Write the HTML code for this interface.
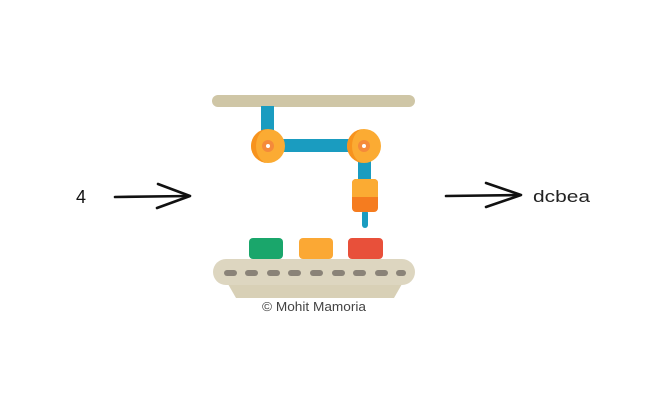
<!DOCTYPE html>
<html><head><style>
html,body{margin:0;padding:0;background:#fff;}
body{width:653px;height:404px;overflow:hidden;position:relative;}
</style></head><body>
<svg width="653" height="404" viewBox="0 0 653 404" xmlns="http://www.w3.org/2000/svg" style="position:absolute;left:0;top:0">
  <text x="76" y="203" font-family="Liberation Sans, sans-serif" font-size="18" fill="#111">4</text>
  <path d="M115 197 L189 196" stroke="#111" stroke-width="2.6" stroke-linecap="round" fill="none"/>
  <path d="M158 184 L190 196 L157 208" stroke="#111" stroke-width="2.6" stroke-linecap="round" stroke-linejoin="round" fill="none"/>
  <path d="M446 196 L520 195" stroke="#111" stroke-width="2.6" stroke-linecap="round" fill="none"/>
  <path d="M486 183 L521 195 L486 207" stroke="#111" stroke-width="2.6" stroke-linecap="round" stroke-linejoin="round" fill="none"/>
  <text x="533" y="202" font-family="Liberation Sans, sans-serif" font-size="17" textLength="57" lengthAdjust="spacingAndGlyphs" fill="#222">dcbea</text>

  <rect x="212" y="95" width="203" height="12" rx="6" fill="#cfc6a6"/>
  <rect x="261" y="106" width="13" height="40" fill="#1a9cc0"/>
  <rect x="268" y="139" width="96" height="13" fill="#1a9cc0"/>
  <rect x="358" y="146" width="13" height="36" fill="#1a9cc0"/>
  <rect x="362" y="210" width="6" height="18" rx="3" fill="#1a9cc0"/>
  <circle cx="268" cy="146" r="17" fill="#fbab33"/>
  <path d="M268 129 A17 17 0 0 0 268 163 A12 17 0 0 1 268 129Z" fill="#f7931e"/>
  <circle cx="268" cy="146" r="6" fill="#f58a3a"/>
  <circle cx="268" cy="146" r="2" fill="#fff"/>
  <circle cx="364" cy="146" r="17" fill="#fbab33"/>
  <path d="M364 129 A17 17 0 0 0 364 163 A12 17 0 0 1 364 129Z" fill="#f7931e"/>
  <circle cx="364" cy="146" r="6" fill="#f58a3a"/>
  <circle cx="364" cy="146" r="2" fill="#fff"/>
  <rect x="352" y="179" width="26" height="33" rx="4" fill="#f57c1f"/>
  <path d="M356 179 H374 A4 4 0 0 1 378 183 V197 H352 V183 A4 4 0 0 1 356 179Z" fill="#fbab33"/>
  <rect x="249" y="238" width="34" height="21" rx="4" fill="#1aa66b"/>
  <rect x="299" y="238" width="34" height="21" rx="4" fill="#fba834"/>
  <rect x="348" y="238" width="35" height="21" rx="4" fill="#e8503a"/>
  <path d="M228 284 L402 284 L394 298 L236 298Z" fill="#d8d0b6"/>
  <rect x="213" y="259" width="202" height="26" rx="13" fill="#ddd6c0"/>
  <g fill="#8a8378">
    <rect x="224" y="270" width="13" height="6" rx="3"/>
    <rect x="245" y="270" width="13" height="6" rx="3"/>
    <rect x="267" y="270" width="13" height="6" rx="3"/>
    <rect x="288" y="270" width="13" height="6" rx="3"/>
    <rect x="310" y="270" width="13" height="6" rx="3"/>
    <rect x="332" y="270" width="13" height="6" rx="3"/>
    <rect x="353" y="270" width="13" height="6" rx="3"/>
    <rect x="375" y="270" width="13" height="6" rx="3"/>
    <rect x="396" y="270" width="10" height="6" rx="3"/>
  </g>
  <text x="262" y="311" font-family="Liberation Sans, sans-serif" font-size="12.5" textLength="104" lengthAdjust="spacingAndGlyphs" fill="#444">© Mohit Mamoria</text>
</svg>
</body></html>
